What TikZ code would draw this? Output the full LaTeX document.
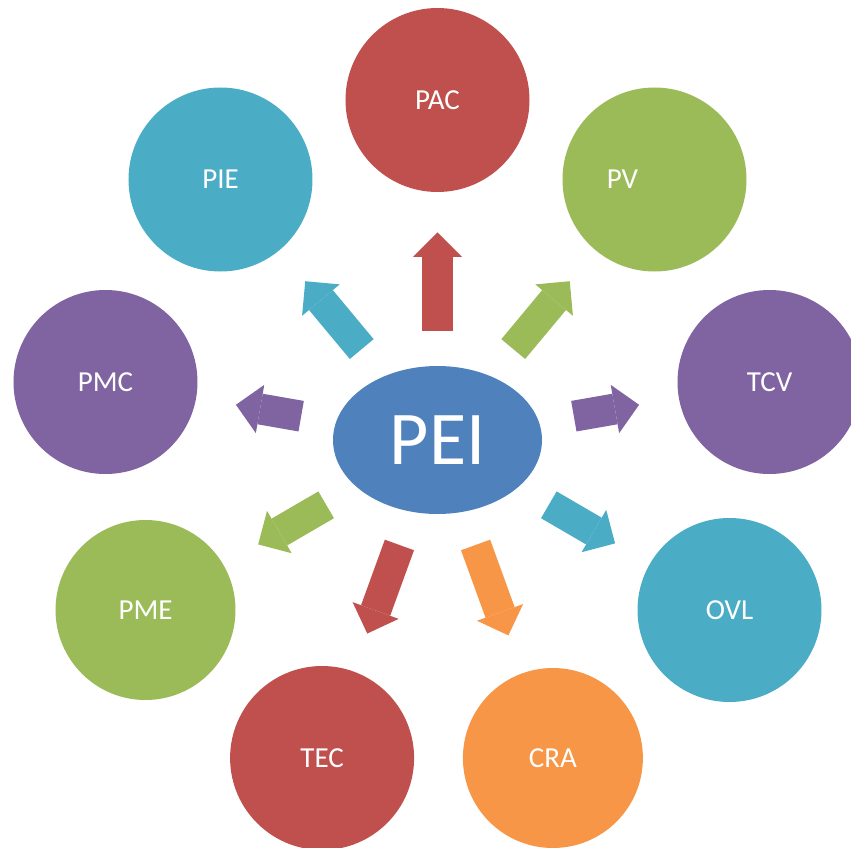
\documentclass[tikz,border=0pt]{standalone}
\usepackage{fontspec}
\setmainfont{Carlito}
\usetikzlibrary{positioning,shapes.geometric,arrows.meta}
\definecolor{hubblue}{HTML}{4F81BD}
\definecolor{offred}{HTML}{C0504D}
\definecolor{offgreen}{HTML}{9BBB59}
\definecolor{offpurple}{HTML}{8064A2}
\definecolor{offteal}{HTML}{4BACC6}
\definecolor{offorange}{HTML}{F79646}

\begin{document}
\begin{tikzpicture}[on grid,
	hub/.style={ellipse,fill=hubblue,text=white,minimum width=104.5pt,minimum height=74pt,inner sep=0pt,font=\fontsize{38}{40}\selectfont},
	bubble/.style={circle,fill=#1,text=white,minimum size=92pt,inner sep=0pt,font=\fontsize{14.5}{16}\selectfont},
	spoke/.style={draw=#1,line width=15.5pt,-{Triangle[width=24.5pt,length=12.25pt,line width=0pt]},shorten <=17.5pt,shorten >=20pt}]
	\useasboundingbox (-218.75pt,-203.5pt) rectangle (206.75pt,220pt);
	%% 中心
	\node[hub] (pei) at (0,0) {PEI};
	%% 上半圈
	\node[bubble=offred, above =170pt of pei] (pac) {PAC};
	\node[bubble=offgreen, above right =130.25pt and 108.5pt of pei] (pv) {\raisebox{-3pt}{PV}\kern32pt};
	\node[bubble=offteal, above left =130.25pt and 108.5pt of pei] (pie) {PIE};
	\node[bubble=offpurple, above right =29pt and 166pt of pei] (tcv) {TCV};
	\node[bubble=offpurple, above left =29pt and 166pt of pei] (pmc) {PMC};
	%% 下半圈
	\node[bubble=offteal, below right =85pt and 146pt of pei] (ovl) {OVL};
	\node[bubble=offgreen, below left =85pt and 146pt of pei, minimum size=90pt] (pme) {PME};
	\node[bubble=offorange, below right =159pt and 57.7pt of pei, minimum size=90pt] (cra) {CRA};
	\node[bubble=offred, below left =159pt and 57.7pt of pei] (tec) {TEC};
	% 箭头
	\draw[spoke=offred] (pei) -- (pac);
	\draw[spoke=offgreen] (pei) -- (pv);
	\draw[spoke=offteal] (pei) -- (pie);
	\draw[spoke=offpurple] (pei) -- (tcv);
	\draw[spoke=offpurple] (pei) -- (pmc);
	\draw[spoke=offteal] (pei) -- (ovl);
	\draw[spoke=offgreen] (pei) -- (pme);
	\draw[spoke=offorange] (pei) -- (cra);
	\draw[spoke=offred] (pei) -- (tec);
\end{tikzpicture}
\end{document}
